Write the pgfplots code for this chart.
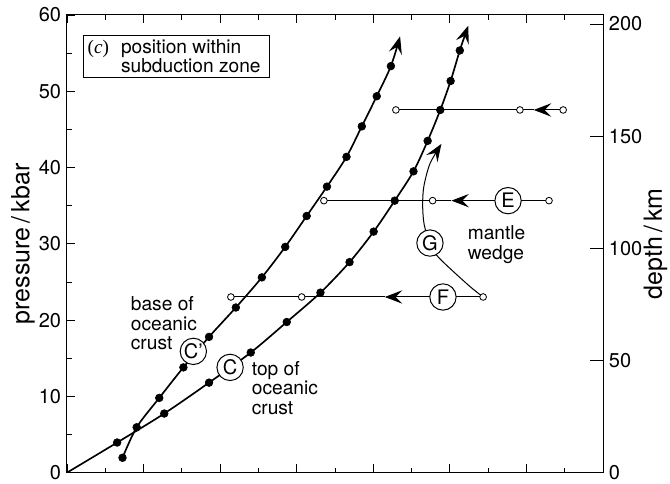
\documentclass[border=0pt]{standalone}
\usepackage{fontspec}
\setmainfont{TeX Gyre Heros}
\newfontfamily\serif{Liberation Serif}
\usepackage{pgfplots}
\pgfplotsset{compat=1.18}
\usetikzlibrary{arrows.meta}

\begin{document}
\begin{tikzpicture}[
  lbl/.style={font=\fontsize{11.5}{11.6}\selectfont, align=left, inner sep=0pt},
  ring/.style={circle, draw, fill=white, line width=0.6pt, minimum size=15.8pt,
    inner sep=0pt, font=\fontsize{12}{12}\selectfont},
  arr/.style={-{Stealth[length=10.5pt,width=8pt,inset=4pt]}},
]
\begin{axis}[
  scale only axis,
  width=321.6pt, height=274.6pt,
  xmin=0, xmax=1400, ymin=0, ymax=60,
  xtick={0,200,...,1400}, minor xtick={100,300,...,1300},
  xticklabels={},
  ytick={0,10,...,60}, minor ytick={5,15,...,55},
  ytick pos=left, xtick pos=both,
  tick align=inside,
  major tick length=5pt, minor tick length=3pt,
  axis line style={line width=0.6pt},
  every tick/.style={line width=0.5pt, black},
  tick label style={font=\fontsize{12}{13}\selectfont},
  /pgf/number format/assume math mode=true,
  ylabel={pressure\,/\,kbar},
  every axis y label/.style={at={(rel axis cs:-0.082,0.5)}, rotate=90, anchor=center,
    font=\fontsize{15}{16}\selectfont},
]
\coordinate (bl) at (rel axis cs:0,0);
\coordinate (tr) at (rel axis cs:1,1);

% isobaric paths (lines)
\addplot[line width=0.6pt, arr] coordinates {(1296,47.55) (1219,47.55)};
\addplot[line width=0.6pt] coordinates {(1219,47.55) (859,47.55)};
\addplot[line width=0.6pt, arr] coordinates {(1259,35.66) (1004,35.66)};
\addplot[line width=0.6pt] coordinates {(1004,35.66) (671,35.66)};
\addplot[line width=0.6pt, arr] coordinates {(1087,23.03) (830,23.03)};
\addplot[line width=0.6pt] coordinates {(830,23.03) (428,23.03)};

% G path in the mantle wedge
\addplot[line width=0.6pt, smooth, arr] coordinates {
  (1087,23.03) (1048,24.6) (969,28.3) (948,30.1) (933,32.5) (929,35.0)
  (932,37.5) (948,40.5) (978,43.1)};

% C' base of oceanic crust
\addplot[line width=1pt, smooth, arr] coordinates {
  (145,1.95) (182,5.95) (241,9.8) (304,13.8) (371,17.8) (441,21.65) (509,25.6)
  (570,29.6) (626,33.65) (679,37.5) (730,41.4) (770,45.4) (809,49.35) (846,53.3)
  (870,57.2)};

% C top of oceanic crust
\addplot[line width=1pt, smooth, arr] coordinates {
  (0,0) (131,3.95) (254,7.75) (371,11.8) (480,15.75) (574,19.75) (662,23.6)
  (738,27.6) (801,31.6) (856,35.66) (905,39.5) (942,43.5) (975,47.55) (1002,51.35)
  (1026,55.35) (1048,58.6)};

% filled points
\addplot[only marks, mark=*, mark size=2.3pt] coordinates {
  (145,1.95) (182,5.95) (241,9.8) (304,13.8) (371,17.8) (441,21.65) (509,25.6)
  (570,29.6) (626,33.65) (679,37.5) (730,41.4) (770,45.4) (809,49.35) (846,53.3)};
\addplot[only marks, mark=*, mark size=2.3pt] coordinates {
  (131,3.95) (254,7.75) (371,11.8) (480,15.75) (574,19.75) (662,23.6)
  (738,27.6) (801,31.6) (856,35.66) (905,39.5) (942,43.5) (975,47.55) (1002,51.35)
  (1026,55.35)};

% open points
\addplot[only marks, mark=*, mark size=2pt, mark options={fill=white, draw=black, line width=0.5pt}] coordinates {
  (859,47.55) (1183,47.55) (1296,47.55)
  (671,35.66) (955,35.66) (1259,35.66)
  (428,23.03) (613,23.03) (1087,23.03)};

% labels
\node[ring] at (axis cs:1152,35.66) {E};
\node[ring] at (axis cs:982,23.03) {F};
\node[ring] at (axis cs:948,30.1) {G};
\node[ring] at (axis cs:330,15.9) {C'};
\node[ring] at (axis cs:426,13.8) {C};
\node[lbl, anchor=west] at (axis cs:166,19.6) {base of\\oceanic\\crust};
\node[lbl, anchor=west] at (axis cs:482,11.1) {top of\\oceanic\\crust};
\node[lbl, anchor=center, align=left] at (axis cs:1122,29.9) {mantle\\wedge};
\node[draw, line width=0.5pt, anchor=north west, inner xsep=2.4pt, inner ysep=2.5pt,
  font=\fontsize{11.5}{11.6}\selectfont, align=left] at (axis cs:42.6,57.4)
  {\makebox[20pt][l]{{\serif(\itshape c\/\upshape)}}position within\\
   \hspace*{20pt}subduction zone\hspace*{3pt}};
\end{axis}

\begin{axis}[
  scale only axis,
  width=321.6pt, height=274.6pt,
  xmin=0, xmax=1400, ymin=0, ymax=204,
  axis x line=none, axis y line*=right,
  ytick={0,50,...,200},
  tick align=inside, major tick length=8pt,
  axis line style={line width=0.6pt, -},
  every tick/.style={line width=0.5pt, black},
  tick label style={font=\fontsize{12}{13}\selectfont},
  /pgf/number format/assume math mode=true,
  ylabel={depth\,/\,km},
  every axis y label/.style={at={(rel axis cs:1.098,0.5)}, rotate=90, anchor=center,
    font=\fontsize{15}{16}\selectfont},
]
\end{axis}

\pgfresetboundingbox
\path ([shift={(-40.2pt,-6.8pt)}]bl) rectangle ([shift={(40.2pt,9pt)}]tr);
\end{tikzpicture}
\end{document}
